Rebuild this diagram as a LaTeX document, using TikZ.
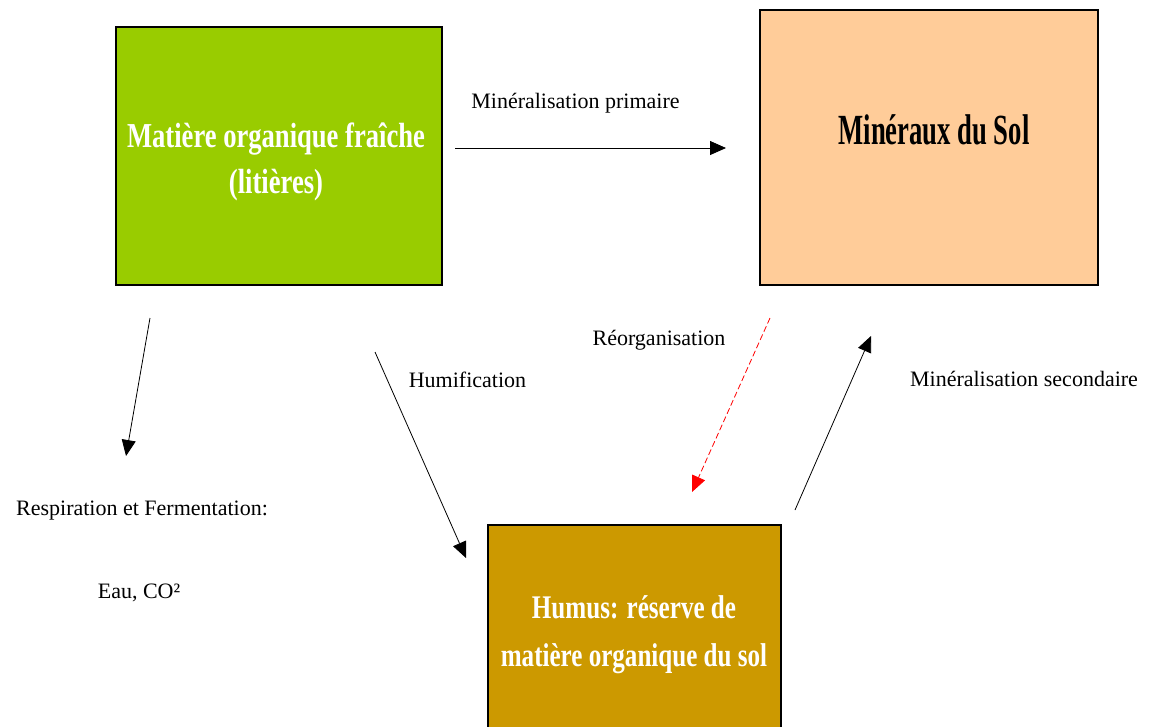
\documentclass[tikz,border=0pt]{standalone}
\usepackage{fontspec}
\setmainfont{Liberation Serif}
\newfontfamily\condA[FakeStretch=0.76]{Liberation Serif}
\newfontfamily\condB[FakeStretch=0.62]{Liberation Serif}
\usetikzlibrary{arrows.meta}
\definecolor{greenbox}{HTML}{99CC00}
\definecolor{orangebox}{HTML}{FFCC99}
\definecolor{humusbox}{HTML}{CC9900}
\tikzset{
  box/.style={draw=black, line width=1.2pt, inner sep=0pt},
  lbl/.style={font=\fontsize{22}{26}\selectfont, inner sep=0pt, anchor=base},
  flow/.style={line width=0.8pt, -{Triangle[length=16pt,width=14pt]}},
}
\begin{document}
\begin{tikzpicture}[x=1pt,y=-1pt]
\clip (0,0) rectangle (1150,726);
\useasboundingbox (0,0) rectangle (1150,726);
% boxes
\node[box, fill=greenbox, minimum width=326pt, minimum height=258pt] (mof) at (279,156) {};
\node[box, fill=orangebox, minimum width=338pt, minimum height=275pt] (min) at (929,147.5) {};
\node[box, fill=humusbox, minimum width=293pt, minimum height=215pt] (hum) at (634.5,632.5) {};
% box texts
\node[text=white, align=center, font=\condA\bfseries\fontsize{35}{46}\selectfont, inner sep=0pt, anchor=base] (moftxt) at (276,193) {Matière organique fraîche\\(litières)};
\node[text=black, font=\condB\bfseries\fontsize{43}{48}\selectfont, inner sep=0pt, anchor=base] (mintxt) at (934,144) {Minéraux du Sol};
\node[text=white, align=center, font=\condA\bfseries\fontsize{33}{48}\selectfont, inner sep=0pt] (humtxt) at (634,635) {Humus: réserve de\\matière organique du sol};
% labels
\node[lbl] (lprim) at (575.5,108) {Minéralisation primaire};
\node[lbl] (lhumif) at (467.5,387) {Humification};
\node[lbl] (lreorg) at (659,345) {Réorganisation};
\node[lbl] (lsec) at (1024,386) {Minéralisation secondaire};
\node[lbl] (lresp) at (142,515) {Respiration et Fermentation:};
\node[lbl] (leau) at (139,598) {Eau, CO²};
% arrow endpoints
\coordinate (p1) at (455,148);
\coordinate (p2) at (726,148);
\coordinate (r1) at (150,318);
\coordinate (r2) at (126,456);
\coordinate (h1) at (375,352);
\coordinate (h2) at (466,558);
\coordinate (o1) at (770,318);
\coordinate (o2) at (692,492);
\coordinate (s1) at (795,510);
\coordinate (s2) at (871,336);
% arrows
\draw[flow] (p1) -- (p2);
\draw[flow] (r1) -- (r2);
\draw[flow] (h1) -- (h2);
\draw[flow, red, dash pattern=on 6pt off 3pt] (o1) -- (o2);
\draw[flow] (s1) -- (s2);
\end{tikzpicture}
\end{document}
